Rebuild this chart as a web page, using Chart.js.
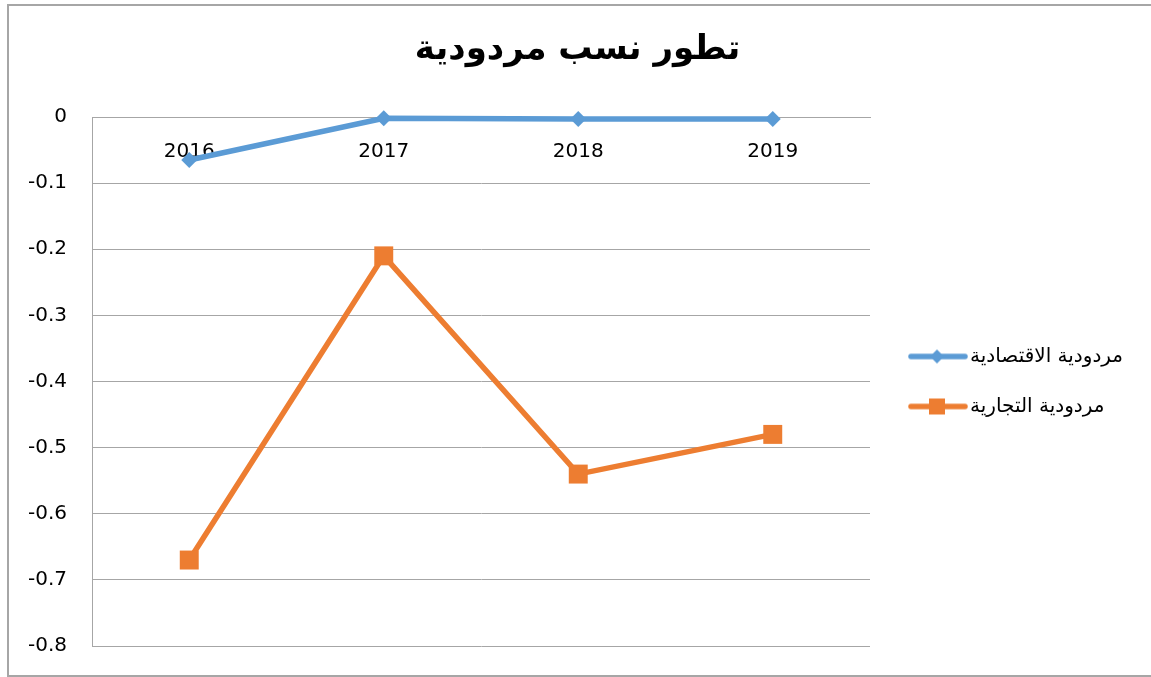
<!DOCTYPE html>
<html>
<head>
<meta charset="utf-8">
<script src="https://cdn.jsdelivr.net/npm/chart.js@4.4.1/dist/chart.umd.min.js"></script>
<style>
  body { margin: 0; background: #fff; }
  canvas { position: absolute; left: 0; top: 0; }
  #marco { position: absolute; left: 7px; top: 4px; width: 1151px; height: 669px;
           border: 2px solid #a6a6a6; border-right: none; pointer-events: none; }
</style>
</head>
<body>
<canvas id="grafico" width="1151" height="677"></canvas>
<div id="marco"></div>
<script>
// Datos
const years = ['2016', '2017', '2018', '2019'];
const rentEconomica = [-0.065, -0.002, -0.003, -0.003];
const rentComercial = [-0.67, -0.21, -0.54, -0.48];
const yTickValues = [0, -0.1, -0.2, -0.3, -0.4, -0.5, -0.6, -0.7, -0.8];
const yTickLabels = ['0', '-0.1', '-0.2', '-0.3', '-0.4', '-0.5', '-0.6', '-0.7', '-0.8'];
const seriesNames = ['مردودية الاقتصادية', 'مردودية التجارية'];
const chartTitle = 'تطور نسب مردودية';

const azul = '#5B9BD5';
const naranja = '#ED7D31';
const fuente = '"DejaVu Sans"';

// medimos la leyenda para que el area del grafico termine en x=870
const medidor = document.createElement('canvas').getContext('2d');
medidor.font = 'normal 20px ' + fuente;
const anchoLeyenda = Math.max(...seriesNames.map(t => medidor.measureText(t).width));
const padDer = Math.max(0, 1151 - 870 - (30 + 60 + 10 + anchoLeyenda + 10));
const padIzq = 22; // las etiquetas del eje y se recortan si empiezan antes de esto

// simbolo de leyenda: linea con marcador
const simbolo = (color, forma) => {
    const c = document.createElement('canvas');
    c.width = 76;
    c.height = 24;
    const g = c.getContext('2d');
    g.strokeStyle = color;
    g.fillStyle = color;
    g.lineWidth = 5.5;
    g.lineCap = 'round';
    g.beginPath();
    g.moveTo(19, 12);
    g.lineTo(73, 12);
    g.stroke();
    if (forma === 'rombo') {
        g.beginPath();
        g.moveTo(45, 5);
        g.lineTo(52, 12);
        g.lineTo(45, 19);
        g.lineTo(38, 12);
        g.closePath();
        g.fill();
    } else {
        g.fillRect(37, 4, 16, 16);
    }
    return c;
};
const simbolos = [simbolo(azul, 'rombo'), simbolo(naranja, 'cuadro')];

const grafico = new Chart(document.querySelector('#grafico'), {
    type: 'line',
    data: {
        labels: years,
        datasets: [{
            label: seriesNames[0],
            data: rentEconomica,
            borderColor: azul,
            backgroundColor: azul,
            borderWidth: 5.5,
            pointStyle: 'rectRot',
            pointRadius: 8,
            pointBorderWidth: 0,
            tension: 0,
            clip: false
        }, {
            label: seriesNames[1],
            data: rentComercial,
            borderColor: naranja,
            backgroundColor: naranja,
            borderWidth: 5.5,
            pointStyle: 'rect',
            pointRadius: 13.4,
            pointBorderWidth: 0,
            tension: 0,
            clip: false
        }]
    },
    options: {
        responsive: false,
        animation: false,
        layout: { padding: { left: padIzq, right: padDer, top: 0, bottom: 31 } },
        scales: {
            y: {
                min: -0.8,
                max: 0,
                afterBuildTicks: (scale) => {
                    scale.ticks = yTickValues.map(v => ({ value: v }));
                },
                afterFit: (scale) => {
                    scale.width = 92 - padIzq;
                    // sin esto el padding de las etiquetas empuja el area hacia arriba
                    scale.paddingTop = 0;
                    scale.paddingBottom = 0;
                },
                ticks: {
                    padding: 25,
                    color: '#000',
                    font: { family: fuente, size: 20 },
                    callback: (value) => yTickLabels[yTickValues.findIndex(v => Math.abs(v - value) < 1e-9)]
                },
                grid: { color: '#a6a6a6', lineWidth: 1, drawTicks: false },
                border: { color: '#a6a6a6', width: 1 }
            },
            x: {
                position: { y: 0 },
                offset: true,
                ticks: {
                    padding: 23,
                    color: '#000',
                    maxRotation: 0,
                    autoSkip: false,
                    font: { family: fuente, size: 20 }
                },
                grid: { display: false, drawTicks: false },
                border: { color: '#a6a6a6', width: 1 }
            }
        },
        plugins: {
            title: {
                display: true,
                text: chartTitle,
                color: '#000',
                font: { family: fuente, size: 34, weight: 'bold' },
                padding: { top: 30, bottom: 46.2 }
            },
            legend: {
                position: 'right',
                fullSize: false,
                labels: {
                    color: '#000',
                    font: { family: fuente, size: 20 },
                    usePointStyle: true,
                    pointStyleWidth: 60,
                    padding: 30,
                    generateLabels: (chart) => {
                        const items = Chart.defaults.plugins.legend.labels.generateLabels(chart);
                        items.forEach((item, i) => { item.pointStyle = simbolos[i]; });
                        return items;
                    }
                }
            },
            tooltip: { enabled: false }
        }
    }
});
</script>
</body>
</html>
